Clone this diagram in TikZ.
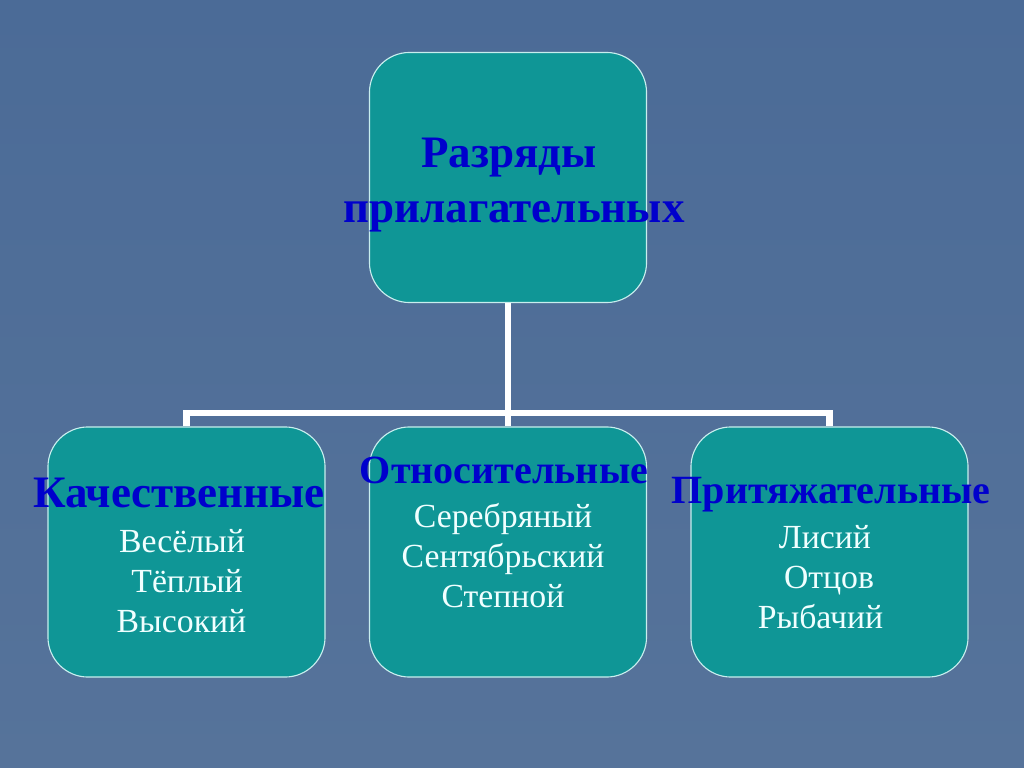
\documentclass[tikz,border=0pt]{standalone}
\usepackage{fontspec}
\setmainfont{Liberation Serif}
\usepackage{xcolor}
\definecolor{bgTop}{HTML}{4B6B97}
\definecolor{bgBottom}{HTML}{56739A}
\definecolor{boxFill}{HTML}{0F9696}
\definecolor{boxLine}{HTML}{C8EEEE}
\definecolor{headBlue}{HTML}{0000CC}
\definecolor{itemWhite}{HTML}{F0FFFF}
\usepackage{tikz}
\usetikzlibrary{positioning}
\tikzset{
    box/.style={draw=boxLine, fill=boxFill, line width=0.8pt, rounded corners=1cm,
                minimum width=6.925cm, minimum height=6.25cm},
    link/.style={draw=white, line width=4.5pt},
    head/.style={font=\fontsize{32}{38}\selectfont\bfseries, text=headBlue, anchor=base},
    smallhead/.style={head, font=\fontsize{28.5}{34}\selectfont\bfseries},
    item/.style={font=\fontsize{24}{29}\selectfont, text=itemWhite, anchor=base}
}

\begin{document}
\begin{tikzpicture}[x=0.025cm, y=-0.025cm, every node/.style={inner sep=0pt}]
  % Parameters (slide pixels, y downwards)
  \def\barY{413}   % height of the white bar
  \def\gap{40}     % distance between example words

  % Background
  \fill[top color=bgTop, bottom color=bgBottom] (0,0) rectangle (1024,768);
  \useasboundingbox (0,0) rectangle (1024,768);

  % Boxes
  \node[box] (top)  at (508,177.5) {};
  \node[box] (kach) at (186.5,552) {};
  \node[box] (otn)  at (508,552) {};
  \node[box] (prit) at (829.5,552) {};

  % White connectors
  \coordinate (bar) at (0,\barY);
  \draw[link] (top.south) -- (otn.north);
  \draw[link] (kach.north) -- (kach.north |- bar) -- (prit.north |- bar) -- (prit.north);

  % Title
  \node[head] (title1) at (509,168) {Разряды};
  \node[head] (title2) at (514,222) {прилагательных};

  % Headings
  \node[head]      (kachHead) at (179,507) {Качественные};
  \node[smallhead] (otnHead)  at (504,483) {Относительные};
  \node[smallhead] (pritHead) at (831,503) {Притяжательные};

  % Example words (word / centre x)
  \foreach \w/\cx [count=\i] in {Весёлый/182, Тёплый/187, Высокий/181.5}{
    \node[item] (kach\i) at (\cx,{552+\gap*(\i-1)}) {\w};
  }
  \foreach \w [count=\i] in {Серебряный, Сентябрьский, Степной}{
    \node[item] (otn\i) at (503,{527+\gap*(\i-1)}) {\w};
  }
  \foreach \w/\cx [count=\i] in {Лисий/825, Отцов/829, Рыбачий/820.5}{
    \node[item] (prit\i) at (\cx,{548+\gap*(\i-1)}) {\w};
  }

\end{tikzpicture}
\end{document}
